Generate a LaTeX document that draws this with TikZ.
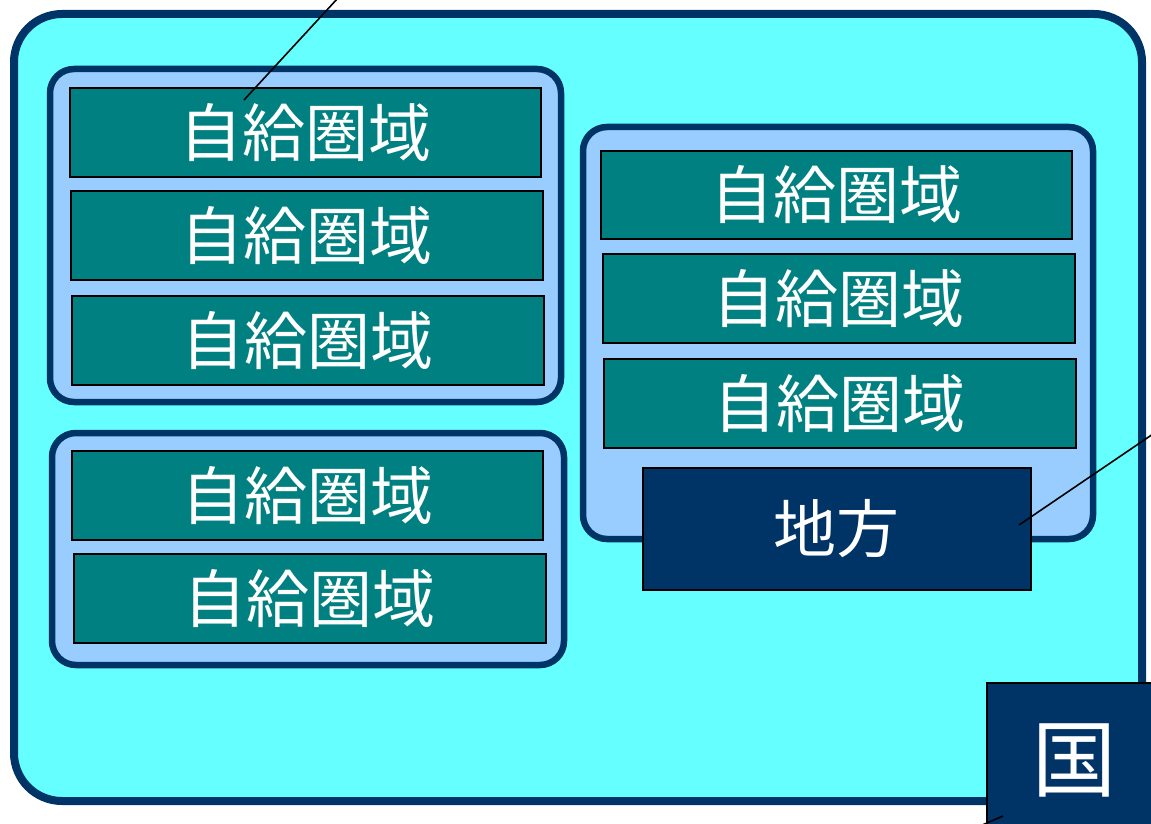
\documentclass[tikz,border=0pt]{standalone}
\usepackage{fontspec}
\newfontfamily\cjk{Noto Sans CJK JP}
\definecolor{outerfill}{HTML}{66FFFF}
\definecolor{navy}{HTML}{003366}
\definecolor{groupfill}{HTML}{99CCFF}
\definecolor{teal}{HTML}{008080}
\begin{document}
\begin{tikzpicture}[x=1pt,y=-1pt,
  outerbox/.style={draw=navy,fill=outerfill,line width=8pt,rounded corners=48pt},
  groupbox/.style={draw=navy,fill=groupfill,line width=6.5pt,rounded corners=24pt},
  zone/.style={draw=black,fill=teal,line width=1.6pt,text=white,font=\cjk\fontsize{63}{63}\selectfont},
  darkbox/.style={draw=black,fill=navy,line width=1.6pt,text=white,font=\cjk\fontsize{63}{63}\selectfont},
  leader/.style={draw=black,line width=1.6pt}]
\useasboundingbox (0,0) rectangle (1151,824);
\begin{scope}
\clip (0,0) rectangle (1151,824);
% outer
\draw[outerbox] (14,14) rectangle (1142,801);
% groups
\draw[groupbox] (50,69) rectangle (561,402);
\draw[groupbox] (52,433) rectangle (564,665);
\draw[groupbox] (583,127) rectangle (1093,539);
% zones group 1
\node[zone,minimum width=471pt,minimum height=89pt,anchor=north west] (z1) at (69,87) {自給圏域};
\node[zone,minimum width=472pt,minimum height=89pt,anchor=north west] (z2) at (70,190) {自給圏域};
\node[zone,minimum width=472pt,minimum height=89pt,anchor=north west] (z3) at (71,295) {自給圏域};
% zones group 2
\node[zone,minimum width=471pt,minimum height=89pt,anchor=north west] (z4) at (71,450) {自給圏域};
\node[zone,minimum width=472pt,minimum height=89pt,anchor=north west] (z5) at (73,553) {自給圏域};
% zones group 3
\node[zone,minimum width=471pt,minimum height=88pt,anchor=north west] (z6) at (600,150) {自給圏域};
\node[zone,minimum width=472pt,minimum height=89pt,anchor=north west] (z7) at (602,253) {自給圏域};
\node[zone,minimum width=472pt,minimum height=89pt,anchor=north west] (z8) at (603,358) {自給圏域};
% local
\node[darkbox,minimum width=388pt,minimum height=122pt,anchor=north west] (chiho) at (642,467) {地方};
% nation
\node[draw=black,fill=navy,line width=1.6pt,minimum width=200pt,minimum height=160pt,anchor=north west] (kuni) at (986,682) {};
\node[text=white,font=\cjk\fontsize{84}{84}\selectfont] (kunilabel) at (1074,760) {国};
% leaders
\coordinate (p1) at (244,100);
\coordinate (q1) at (338,-2);
\coordinate (p2) at (1019,525);
\coordinate (q2) at (1153,434);
\coordinate (p3) at (1003,816);
\coordinate (q3) at (980,826);
\draw[leader] (p1) -- (q1);
\draw[leader] (p2) -- (q2);
\draw[leader] (p3) -- (q3);
\end{scope}
\end{tikzpicture}
\end{document}
